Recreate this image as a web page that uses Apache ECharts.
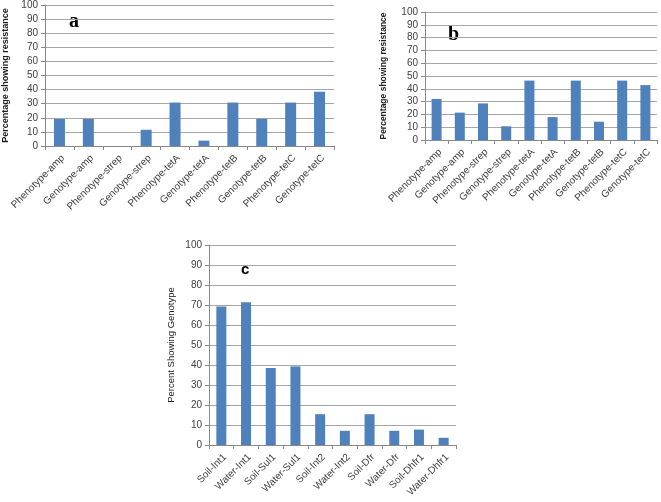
<!DOCTYPE html>
<html>
<head>
<meta charset="utf-8">
<script src="https://cdn.jsdelivr.net/npm/echarts@6/dist/echarts.min.js"></script>
<style>
html,body{margin:0;padding:0;background:#fff;}
#chart{width:661px;height:502px;}
</style>
</head>
<body>
<div id="chart"></div>
<script>
var categoriesAB = ["Phenotype-amp","Genotype-amp","Phenotype-strep","Genotype-strep","Phenotype-tetA","Genotype-tetA","Phenotype-tetB","Genotype-tetB","Phenotype-tetC","Genotype-tetC"];
var valuesA = [19.2, 19.2, 0, 11.5, 30.8, 3.8, 30.8, 19.2, 30.8, 38.5];
var valuesB = [32.1, 21.4, 28.6, 10.7, 46.4, 17.9, 46.4, 14.3, 46.4, 42.9];
var categoriesC = ["Soil-Int1","Water-Int1","Soil-Sul1","Water-Sul1","Soil-Int2","Water-Int2","Soil-Dfr","Water-Dfr","Soil-Dhfr1","Water-Dhfr1"];
var valuesC = [69.2, 71.4, 38.5, 39.3, 15.4, 7.1, 15.4, 7.1, 7.7, 3.6];
var yTicks = {min: 0, max: 100, interval: 10};

var FONT = "Liberation Sans";
var barColor = "#4F81BD";

function xAxisDef(idx, cats, fs) {
  return {
    type: "category", gridIndex: idx, data: cats,
    axisLine: {show: true, lineStyle: {color: "#888888", width: 1}},
    axisTick: {show: true, length: 4, lineStyle: {color: "#888888"}},
    axisLabel: {rotate: 45, fontSize: fs, color: "#404040", fontFamily: FONT, margin: 7, interval: 0, verticalAlign: "top"},
    splitLine: {show: false}
  };
}
function yAxisDef(idx, name, gap, bold, fs) {
  return {
    type: "value", gridIndex: idx, min: yTicks.min, max: yTicks.max, interval: yTicks.interval,
    name: name, nameLocation: "middle", nameGap: gap, nameRotate: 90,
    nameTextStyle: {fontSize: fs, fontWeight: bold ? "bold" : "normal", color: "#202020", fontFamily: FONT},
    axisLine: {show: true, lineStyle: {color: "#888888", width: 1}},
    axisTick: {show: true, length: 4, lineStyle: {color: "#888888"}},
    axisLabel: {fontSize: 10, color: "#404040", fontFamily: FONT, margin: 7},
    splitLine: {show: true, lineStyle: {color: "#A6A6A6", width: 1}}
  };
}
function barSeries(idx, vals, w) {
  return {
    type: "bar", xAxisIndex: idx, yAxisIndex: idx, data: vals, barWidth: w,
    itemStyle: {color: barColor},
    animation: false
  };
}

var chart = echarts.init(document.getElementById("chart"), null, {renderer: "canvas"});
chart.setOption({
  animation: false,
  backgroundColor: "#ffffff",
  grid: [
    {left: 45, top: 5, width: 289, height: 141},
    {left: 425, top: 12, width: 232, height: 128},
    {left: 209, top: 245, width: 247, height: 200}
  ],
  xAxis: [xAxisDef(0, categoriesAB, 10), xAxisDef(1, categoriesAB, 10), xAxisDef(2, categoriesC, 10)],
  yAxis: [
    yAxisDef(0, "Percentage showing resistance", 35, true, 9),
    yAxisDef(1, "Percentage showing resistance", 37, true, 8.5),
    yAxisDef(2, "Percent Showing Genotype", 33, false, 9.5)
  ],
  series: [barSeries(0, valuesA, 11), barSeries(1, valuesB, 10), barSeries(2, valuesC, 10)],
  graphic: [
    {type: "text", left: 69, top: 12, style: {text: "a", font: "bold 20px 'Liberation Serif'", fill: "#000"}},
    {type: "text", left: 448, top: 25, style: {text: "b", font: "bold 20px 'Liberation Serif'", fill: "#000"}},
    {type: "text", left: 241, top: 262, style: {text: "c", font: "bold 15px 'Liberation Sans'", fill: "#000"}}
  ]
});
</script>
</body>
</html>
